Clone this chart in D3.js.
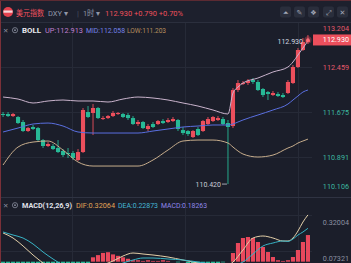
<!DOCTYPE html>
<html>
<head>
<meta charset="utf-8">
<script src="https://cdn.jsdelivr.net/npm/d3@7"></script>
<style>
  html, body { margin: 0; padding: 0; background: #1b1e2a; }
  svg { display: block; font-family: Roboto, 'Noto Sans CJK SC', sans-serif; }
</style>
</head>
<body>
<div id="chart"></div>
<script>
// candles, oldest first (1h bars)
const opens = [111.640, 111.640, 111.605, 111.588, 111.501, 111.344, 111.414, 111.396, 111.187, 111.083,
  111.083, 111.048, 110.996, 110.961, 110.961, 110.839, 110.978, 111.675, 111.658, 111.745,
  111.553, 111.570, 111.605, 111.640, 111.640, 111.623, 111.570, 111.466, 111.501, 111.379,
  111.466, 111.466, 111.518, 111.501, 111.518, 111.536, 111.361, 111.344, 111.239, 111.379,
  111.344, 111.466, 111.518, 111.536, 111.553, 111.483, 111.431, 112.058, 112.163, 112.180,
  112.232, 112.198, 112.076, 112.023, 111.971, 111.989, 111.971, 112.006, 112.180, 112.459,
  112.755, 112.894];
const highs = [111.675, 111.675, 111.658, 111.605, 111.536, 111.414, 111.449, 111.414, 111.205, 111.152,
  111.118, 111.187, 111.030, 111.048, 110.996, 111.030, 111.745, 111.779, 111.814, 111.762,
  111.605, 111.623, 111.692, 111.675, 111.658, 111.658, 111.605, 111.536, 111.518, 111.466,
  111.501, 111.536, 111.553, 111.570, 111.588, 111.553, 111.414, 111.361, 111.361, 111.414,
  111.536, 111.588, 111.605, 111.605, 111.588, 111.536, 112.093, 112.232, 112.215, 112.250,
  112.267, 112.232, 112.093, 112.041, 112.041, 112.023, 112.006, 112.232, 112.494, 112.790,
  112.964, 113.016];
const lows = [111.588, 111.588, 111.588, 111.466, 111.327, 111.327, 111.361, 111.170, 111.048, 111.065,
  111.013, 110.961, 110.891, 110.874, 110.839, 110.821, 110.961, 111.570, 111.274, 111.553,
  111.536, 111.553, 111.588, 111.623, 111.570, 111.536, 111.449, 111.431, 111.379, 111.344,
  111.396, 111.449, 111.466, 111.483, 111.501, 111.344, 111.274, 111.257, 111.222, 111.257,
  111.327, 111.449, 111.501, 111.518, 111.449, 110.420, 111.396, 112.023, 112.145, 112.145,
  112.163, 112.041, 111.936, 111.884, 111.954, 111.936, 111.919, 111.989, 112.163, 112.441,
  112.738, 112.860];
const closes = [111.623, 111.605, 111.640, 111.483, 111.344, 111.396, 111.379, 111.187, 111.083, 111.118,
  111.030, 110.978, 110.926, 110.943, 110.874, 110.978, 111.710, 111.588, 111.745, 111.570,
  111.570, 111.605, 111.658, 111.658, 111.588, 111.570, 111.466, 111.501, 111.396, 111.431,
  111.414, 111.518, 111.483, 111.536, 111.553, 111.379, 111.309, 111.292, 111.344, 111.274,
  111.518, 111.553, 111.588, 111.570, 111.466, 111.414, 112.058, 112.180, 112.180, 112.215,
  112.198, 112.058, 111.971, 111.989, 112.006, 111.954, 111.936, 112.198, 112.459, 112.755,
  112.894, 112.930];

// BOLL read at some candles
const bollIdx = [0, 3, 6, 9, 12, 15, 18, 21, 24, 27, 30, 33, 36, 39, 42, 45, 46, 47, 48, 51, 54, 57, 58, 59, 60, 61];
const bollUp = [111.936, 111.901, 111.832, 111.867, 111.884, 111.867, 111.867, 111.849, 111.901, 111.936,
  111.919, 111.884, 111.832, 111.779, 111.710, 111.640, 112.006, 112.110, 112.180, 112.267,
  112.372, 112.459, 112.546, 112.668, 112.790, 112.913];
const bollMid = [111.327, 111.396, 111.466, 111.483, 111.431, 111.327, 111.309, 111.309, 111.309, 111.309,
  111.344, 111.379, 111.414, 111.431, 111.449, 111.449, 111.466, 111.501, 111.536, 111.623,
  111.710, 111.814, 111.884, 111.954, 112.023, 112.058];
const bollLow = [110.752, 111.065, 111.152, 111.170, 111.013, 110.804, 110.734, 110.734, 110.734, 110.734,
  110.839, 111.013, 111.170, 111.187, 111.187, 111.135, 111.065, 110.996, 110.943, 110.891,
  110.925, 111.048, 111.083, 111.135, 111.170, 111.203];

// MACD
const macdIdx = [0, 2, 4, 6, 8, 10, 12, 14, 16, 18, 20, 22, 24, 26, 28, 30, 33, 36, 39, 42, 45, 46,
  48, 50, 52, 54, 56, 57, 58, 59, 60, 61];
const difValues = [0.1966, 0.1623, 0.1075, 0.0457, -0.0091, -0.0571, -0.0914, -0.0982, -0.0846, -0.0571,
  -0.0228, 0.0046, 0.0389, 0.0594, 0.0526, 0.0457, 0.0320, 0.0114, -0.0091, -0.0297,
  -0.0228, -0.0023, 0.0800, 0.1623, 0.1760, 0.1623, 0.1417, 0.1417, 0.1623, 0.2103,
  0.2720, 0.3206];
const deaValues = [0.2035, 0.1829, 0.1623, 0.1212, 0.0663, 0.0183, -0.0228, -0.0503, -0.0640, -0.0708,
  -0.0571, -0.0366, -0.0091, 0.0114, 0.0252, 0.0252, 0.0183, 0.0114, -0.0023, -0.0160,
  -0.0228, -0.0228, -0.0023, 0.0526, 0.1075, 0.1280, 0.1417, 0.1390, 0.1550, 0.1829,
  0.2035, 0.2287];
const histValues = [-0.014, -0.025, -0.04, -0.07, -0.10, -0.13, -0.15, -0.15, -0.15, -0.15,
  -0.15, -0.14, -0.14, -0.12, -0.10, -0.08, -0.04, -0.01, 0.03, 0.045,
  0.06, 0.065, 0.05, 0.04, 0.03, 0.02, 0.01, 0.01, 0.005, 0.01,
  0.005, 0.005, 0.01, 0.005, 0.0, -0.005, 0.0, -0.01, -0.01, -0.01,
  -0.01, -0.015, -0.015, -0.01, -0.005, 0.0, 0.0594, 0.128, 0.1623, 0.1691,
  0.1623, 0.1349, 0.1006, 0.0663, 0.032, 0.01, 0.005, 0.01, 0.032, 0.08,
  0.1349, 0.1826];

const priceTicks = [113.204, 112.459, 111.675, 110.891, 110.106];
const macdTicks = [0.32004, 0.07321];
const prevClose = 112.140;

const svgWidth = 351;
const svgHeight = 263;
const mainTop = 22;
const mainBottom = 197;
const macdBottom = 263;
const up = '#ec4f5c';
const down = '#27b996';

const svg = d3.select('#chart').append('svg')
  .attr('width', svgWidth)
  .attr('height', svgHeight);

svg.append('rect').attr('width', svgWidth).attr('height', svgHeight).attr('fill', '#1b1e2a');
svg.append('rect').attr('width', svgWidth).attr('height', mainTop).attr('fill', '#1d202d');

const defs = svg.append('defs');
defs.append('clipPath').attr('id', 'clipMain')
  .append('rect').attr('x', 0).attr('y', mainTop).attr('width', 312).attr('height', mainBottom - mainTop);
defs.append('clipPath').attr('id', 'clipMacd')
  .append('rect').attr('x', 0).attr('y', mainBottom + 1).attr('width', 312).attr('height', macdBottom - mainBottom);

const x = d3.scaleBand()
  .domain(d3.range(opens.length))
  .range([0.5, 310.5])
  .paddingInner(0.18)
  .paddingOuter(0.1);
const xc = (i) => x(i) + x.bandwidth() / 2;

const y = d3.scaleLinear().domain([110.106, 112.459]).range([202.1, 67]);
const yMacd = d3.scaleLinear().domain([0.07321, 0.32004]).range([251, 215]);

// grid
const grid = svg.append('g').attr('stroke', '#262a37').attr('stroke-width', 1);
[72, 185, 298].forEach((gx) => {
  grid.append('line').attr('x1', gx + 0.5).attr('x2', gx + 0.5).attr('y1', mainTop).attr('y2', macdBottom);
});
priceTicks.slice(1, 4).forEach((t) => {
  grid.append('line').attr('x1', 0).attr('x2', 312).attr('y1', Math.round(y(t)) + 0.5).attr('y2', Math.round(y(t)) + 0.5);
});
macdTicks.forEach((t) => {
  grid.append('line').attr('x1', 0).attr('x2', 312).attr('y1', Math.round(yMacd(t)) + 0.5).attr('y2', Math.round(yMacd(t)) + 0.5);
});

svg.append('line').attr('x1', 0).attr('x2', svgWidth).attr('y1', mainTop + 0.5).attr('y2', mainTop + 0.5).attr('stroke', '#2b2f3d');
svg.append('line').attr('x1', 0).attr('x2', svgWidth).attr('y1', mainBottom + 0.5).attr('y2', mainBottom + 0.5).attr('stroke', '#2f3342');

// candles
const candles = d3.range(opens.length).map((i) => ({
  i, o: opens[i], h: highs[i], l: lows[i], c: closes[i],
}));
const main = svg.append('g').attr('clip-path', 'url(#clipMain)');

main.selectAll('.wick')
  .data(candles)
  .enter()
  .append('line')
  .attr('x1', (d) => xc(d.i))
  .attr('x2', (d) => xc(d.i))
  .attr('y1', (d) => y(d.h))
  .attr('y2', (d) => y(d.l))
  .attr('stroke', (d) => (d.c >= d.o ? up : down))
  .attr('stroke-width', 0.9);

main.selectAll('.body')
  .data(candles)
  .enter()
  .append('rect')
  .attr('x', (d) => x(d.i))
  .attr('width', x.bandwidth())
  .attr('y', (d) => y(Math.max(d.o, d.c)))
  .attr('height', (d) => Math.max(1, Math.abs(y(d.o) - y(d.c))))
  .attr('fill', (d) => (d.c >= d.o ? up : down));

// bollinger
const bandLine = d3.line()
  .x((d) => xc(d.i))
  .y((d) => y(d.v))
  .curve(d3.curveMonotoneX);
[[bollUp, '#c9b3cc'], [bollMid, '#5a6fe0'], [bollLow, '#c7ad8c']].forEach(([vals, col]) => {
  main.append('path')
    .datum(bollIdx.map((i, k) => ({ i, v: vals[k] })))
    .attr('d', bandLine)
    .attr('fill', 'none')
    .attr('stroke', col)
    .attr('stroke-width', 1);
});

// low marker
const lowIdx = d3.minIndex(lows);
svg.append('line')
  .attr('x1', xc(lowIdx) - 6).attr('x2', xc(lowIdx) - 1)
  .attr('y1', y(lows[lowIdx])).attr('y2', y(lows[lowIdx]))
  .attr('stroke', '#c9ccd6').attr('stroke-width', 0.8);
svg.append('text')
  .attr('x', xc(lowIdx) - 7).attr('y', y(lows[lowIdx]) + 2.5)
  .attr('text-anchor', 'end').attr('font-size', 7).attr('fill', '#c9ccd6')
  .text(lows[lowIdx].toFixed(3));

// last price dot + label
const last = candles[candles.length - 1];
svg.append('text')
  .attr('x', xc(last.i) - 5).attr('y', y(last.c) + 4)
  .attr('text-anchor', 'end').attr('font-size', 7).attr('fill', '#d5d8e0')
  .text(last.c.toFixed(3));
svg.append('circle').attr('cx', xc(last.i)).attr('cy', y(last.c)).attr('r', 3.6).attr('fill', up).attr('opacity', 0.35);
svg.append('circle').attr('cx', xc(last.i)).attr('cy', y(last.c)).attr('r', 1.8).attr('fill', '#ff6b77');

// right price axis
svg.selectAll('.ptick')
  .data(priceTicks)
  .enter()
  .append('text')
  .attr('x', 349)
  .attr('y', (d) => Math.min(186, Math.max(28, y(d))) + 2.5)
  .attr('text-anchor', 'end')
  .attr('font-size', 7.2)
  .attr('fill', (d) => (d > prevClose ? '#e4596a' : '#3bb9a0'))
  .text((d) => d.toFixed(3));

svg.append('rect').attr('x', 313).attr('y', y(last.c) - 5.5).attr('width', 38).attr('height', 11).attr('fill', up);
svg.append('text')
  .attr('x', 349).attr('y', y(last.c) + 2.5)
  .attr('text-anchor', 'end').attr('font-size', 7.2).attr('fill', '#ffffff')
  .text(last.c.toFixed(3));

// MACD
const macd = svg.append('g').attr('clip-path', 'url(#clipMacd)');
macd.selectAll('.hist')
  .data(histValues.map((v, i) => ({ i, v })))
  .enter()
  .append('rect')
  .attr('x', (d) => x(d.i))
  .attr('width', x.bandwidth())
  .attr('y', (d) => Math.min(yMacd(d.v), yMacd(0)))
  .attr('height', (d) => Math.abs(yMacd(d.v) - yMacd(0)))
  .attr('fill', (d) => (d.v >= 0 ? '#e8485c' : down));

const macdLine = d3.line()
  .x((d) => xc(d.i))
  .y((d) => yMacd(d.v))
  .curve(d3.curveMonotoneX);
[[difValues, '#e3cfa8'], [deaValues, '#38b4c6']].forEach(([vals, col]) => {
  macd.append('path')
    .datum(macdIdx.map((i, k) => ({ i, v: vals[k] })))
    .attr('d', macdLine)
    .attr('fill', 'none')
    .attr('stroke', col)
    .attr('stroke-width', 1);
});

svg.selectAll('.mtick')
  .data(macdTicks)
  .enter()
  .append('text')
  .attr('x', 349)
  .attr('y', (d) => yMacd(d) + 9.5)
  .attr('text-anchor', 'end')
  .attr('font-size', 7.2)
  .attr('fill', '#8b90a0')
  .text((d) => d.toFixed(5));

// header bar
svg.append('circle').attr('cx', 8).attr('cy', 12).attr('r', 5).attr('fill', '#e5424f');
svg.append('rect').attr('x', 3.5).attr('y', 10.5).attr('width', 9).attr('height', 2.2).attr('fill', '#f4d7da');

const addText = (tx, ty, str, fill, size, len, weight) => {
  const t = svg.append('text')
    .attr('x', tx).attr('y', ty)
    .attr('font-size', size).attr('fill', fill)
    .text(str);
  if (len) t.attr('textLength', len).attr('lengthAdjust', 'spacingAndGlyphs');
  if (weight) t.attr('font-weight', weight);
  return t;
};

addText(16, 15.5, '美元指数', '#f2505e', 8, 28);
addText(48, 15.5, 'DXY ▾', '#9096a8', 7.5, 20);
addText(77, 15.5, '|', '#4a4f60', 8);
addText(83, 15.5, '1时 ▾', '#9096a8', 7.5, 17);
addText(105, 15.5, '112.930 +0.790 +0.70%', '#f0505c', 7.8, 78);

const iconX = [280, 294, 308, 323, 337];
const iconGlyph = ['⏶', '✎', '❖', '⤢', '✕'];
iconX.forEach((ix, k) => {
  svg.append('rect').attr('x', ix).attr('y', 6.5).attr('width', 11).attr('height', 11).attr('rx', 2).attr('fill', '#2a2e3c');
  svg.append('text')
    .attr('x', ix + 5.5).attr('y', 14.8)
    .attr('text-anchor', 'middle').attr('font-size', 7).attr('fill', '#a3a8b8')
    .attr('font-family', 'DejaVu Sans')
    .text(iconGlyph[k]);
});

// indicator legends
const legend = (ly, items) => {
  addText(3, ly, '✕', '#8a8fa0', 6.5).attr('font-family', 'DejaVu Sans');
  svg.append('circle').attr('cx', 15).attr('cy', ly - 2.3).attr('r', 2.6).attr('fill', 'none').attr('stroke', '#8a8fa0').attr('stroke-width', 0.8);
  svg.append('circle').attr('cx', 15).attr('cy', ly - 2.3).attr('r', 0.9).attr('fill', '#8a8fa0');
  items.forEach(([tx, str, col, len, w]) => addText(tx, ly, str, col, 7, len, w));
};

legend(32.5, [
  [22, 'BOLL', '#e6e8ee', 19, 'bold'],
  [45, 'UP:112.913', '#c07fd0', 38],
  [86, 'MID:112.058', '#7683ea', 39],
  [127, 'LOW:111.203', '#b88e5e', 39],
]);

legend(207.5, [
  [22, 'MACD(12,26,9)', '#e0e2ea', 50, 'bold'],
  [76, 'DIF:0.32064', '#e2a458', 39],
  [118, 'DEA:0.22873', '#45b6d4', 40],
  [161, 'MACD:0.18263', '#8f88ea', 46],
]);

// frame edge
svg.append('line').attr('x1', 0.5).attr('x2', 0.5).attr('y1', 0).attr('y2', svgHeight).attr('stroke', '#7a3038');
svg.append('line').attr('x1', 0).attr('x2', svgWidth).attr('y1', 0.5).attr('y2', 0.5).attr('stroke', '#5c2a32');
</script>
</body>
</html>
